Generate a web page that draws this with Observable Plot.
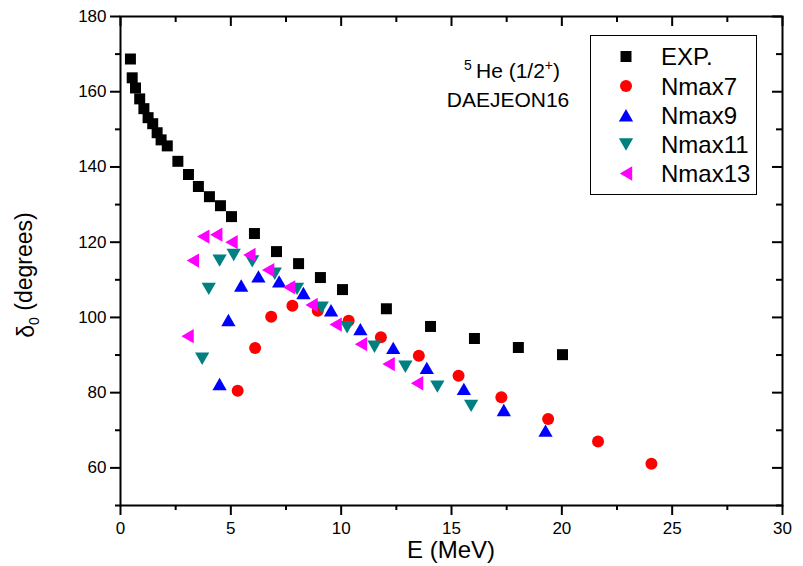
<!DOCTYPE html>
<html><head><meta charset="utf-8">
<script src="https://cdn.jsdelivr.net/npm/d3@7"></script>
<script src="https://cdn.jsdelivr.net/npm/@observablehq/plot@0.6"></script>
<style>body{margin:0;background:#fff} svg{display:block}</style>
</head><body><div id="chart"></div>
<script>
// ---- data ----
const expE = [0.45,0.53,0.68,0.87,1.06,1.25,1.46,1.66,1.84,2.12,2.6,3.08,3.53,4.03,4.53,5.03,6.07,7.07,8.07,9.06,10.06,12.05,14.05,16.04,18.03,20.03];
const expD = [168.7,163.7,161.0,158.1,155.5,153.1,151.5,149.1,147.2,145.6,141.5,138.0,134.8,132.1,129.7,126.8,122.3,117.5,114.3,110.6,107.4,102.3,97.6,94.4,92.0,90.1];
const n7E = [5.31,6.10,6.83,7.79,8.94,10.34,11.80,13.52,15.32,17.26,19.38,21.64,24.06];
const n7D = [80.5,91.9,100.2,103.1,101.8,99.1,94.7,89.8,84.5,78.8,73.0,67.0,61.1];
const n9E = [4.49,4.89,5.47,6.25,7.19,8.29,9.54,10.87,12.36,13.88,15.56,17.37,19.26];
const n9D = [82.3,99.3,108.5,110.9,109.6,106.5,101.9,96.9,91.9,86.6,81.0,75.4,69.9];
const n11E = [3.70,4.00,4.49,5.13,5.97,6.99,8.00,9.12,10.27,11.51,12.91,14.36,15.89];
const n11D = [89.0,107.6,115.1,116.6,114.9,111.6,107.6,102.6,97.4,92.2,86.9,81.6,76.5];
const n13E = [3.04,3.28,3.75,4.34,5.03,5.84,6.69,7.64,8.66,9.75,10.90,12.15,13.44];
const n13D = [95.0,115.1,121.5,122.0,120.0,116.6,112.6,108.0,103.3,98.1,92.9,87.6,82.5];

const seriesNames = ["EXP.","Nmax7","Nmax9","Nmax11","Nmax13"];
const seriesColors = ["#000000","#ff0000","#0000ff","#008080","#ff00ff"];

const xMajor = [0,5,10,15,20,25,30];
const xMinor = [2.5,7.5,12.5,17.5,22.5,27.5];
const yMajor = [60,80,100,120,140,160,180];
const yMinor = [50,70,90,110,130,150,170];

// ---- symbols (bbox-centred triangles) ----
function tri(dir){
  return {draw(ctx,size){
    const s=Math.sqrt(4*size/Math.sqrt(3)), h=s*Math.sqrt(3)/2;
    if(dir==="up"){ctx.moveTo(0,-h/2);ctx.lineTo(s/2,h/2);ctx.lineTo(-s/2,h/2);}
    else if(dir==="down"){ctx.moveTo(0,h/2);ctx.lineTo(-s/2,-h/2);ctx.lineTo(s/2,-h/2);}
    else {ctx.moveTo(-h/2,0);ctx.lineTo(h/2,-s/2);ctx.lineTo(h/2,s/2);}
    ctx.closePath();
  }};
}
const symbols = [d3.symbolSquare, d3.symbolCircle, tri("up"), tri("down"), tri("left")];
const radii = [6.2, 6, 5.3, 5.3, 5.3];

const zip = (E,D) => E.map((e,i)=>({E:e, d:D[i]}));
const tables = [zip(expE,expD), zip(n7E,n7D), zip(n9E,n9D), zip(n11E,n11D), zip(n13E,n13D)];

const W=803, H=566, mL=120, mR=21, mT=16, mB=61;
const innerW=W-mL-mR, innerH=H-mT-mB;

const plot = Plot.plot({
  width: W, height: H,
  marginLeft: mL, marginRight: mR, marginTop: mT, marginBottom: mB,
  style: {fontFamily: "'Liberation Sans', Arial, sans-serif", fontSize: "17px", color: "#000", background: "#fff"},
  x: {domain: [0,30], label: null},
  y: {domain: [50,180], label: null},
  marks: [
    Plot.axisX({ticks: xMajor, tickSize: 10, tickPadding: 6, strokeWidth: 2, label: null, tickFormat: d=>String(d)}),
    Plot.axisX({ticks: xMinor, tickSize: 5, strokeWidth: 2, label: null, tickFormat: ()=>""}),
    Plot.axisY({ticks: yMajor, tickSize: 10, tickPadding: 4, strokeWidth: 2, label: null, tickFormat: d=>String(d)}),
    Plot.axisY({ticks: yMinor, tickSize: 5, strokeWidth: 2, label: null, tickFormat: ()=>""}),
    Plot.tickX(xMajor, {x: d=>d, insetBottom: innerH-10, stroke: "#000", strokeWidth: 2}),
    Plot.tickX(xMinor, {x: d=>d, insetBottom: innerH-6, stroke: "#000", strokeWidth: 2}),
    Plot.tickY(yMajor, {y: d=>d, insetLeft: innerW-10, stroke: "#000", strokeWidth: 2}),
    Plot.tickY(yMinor, {y: d=>d, insetLeft: innerW-6, stroke: "#000", strokeWidth: 2}),
    Plot.frame({stroke: "#000", strokeWidth: 2}),
    ...tables.map((t,i)=>Plot.dot(t, {x: "E", y: "d", symbol: symbols[i], r: radii[i], fill: seriesColors[i], stroke: "none"}))
  ]
});
document.getElementById("chart").appendChild(plot);

const svg = d3.select(plot);
const FF = "'Liberation Sans', Arial, sans-serif";

// y-axis title
const yt = svg.append("text").attr("transform","translate(34,275) rotate(-90)")
  .attr("text-anchor","middle").attr("font-family",FF).attr("font-size",23).attr("fill","#000");
yt.append("tspan").text("δ");
yt.append("tspan").attr("font-size",14).attr("dy","0.35em").text("0");
yt.append("tspan").attr("dy","-0.3em").text(" (degrees)");

// x-axis title
svg.append("text").attr("x",451).attr("y",558).attr("text-anchor","middle")
  .attr("font-family",FF).attr("font-size",24).attr("fill","#000").text("E (MeV)");

// annotation
const a1 = svg.append("text").attr("x",512).attr("y",78).attr("text-anchor","middle")
  .attr("font-family",FF).attr("font-size",21).attr("fill","#000");
a1.append("tspan").attr("font-size",14).attr("dy",-8).text("5");
a1.append("tspan").attr("dy",8).text("\u2009He (1/2");
a1.append("tspan").attr("font-size",14).attr("dy",-8).text("+");
a1.append("tspan").attr("dy",8).text(")");
svg.append("text").attr("x",508).attr("y",107).attr("text-anchor","middle")
  .attr("font-family",FF).attr("font-size",21).attr("fill","#000").text("DAEJEON16");

// legend
const lg = svg.append("g");
lg.append("rect").attr("x",590.5).attr("y",35.5).attr("width",166).attr("height",159)
  .attr("fill","#fff").attr("stroke","#000").attr("stroke-width",1);
const rowY = [56.5, 86, 115.3, 144.5, 173.5];
seriesNames.forEach((name,i)=>{
  lg.append("path").attr("transform",`translate(626,${rowY[i]})`)
    .attr("d", d3.symbol().type(symbols[i]).size(Math.PI*radii[i]*radii[i])())
    .attr("fill", seriesColors[i]);
  lg.append("text").attr("x",661).attr("y",rowY[i]+8.5).attr("text-anchor","start")
    .attr("font-family",FF).attr("font-size",24).attr("fill","#000").text(name);
});
</script></body></html>
